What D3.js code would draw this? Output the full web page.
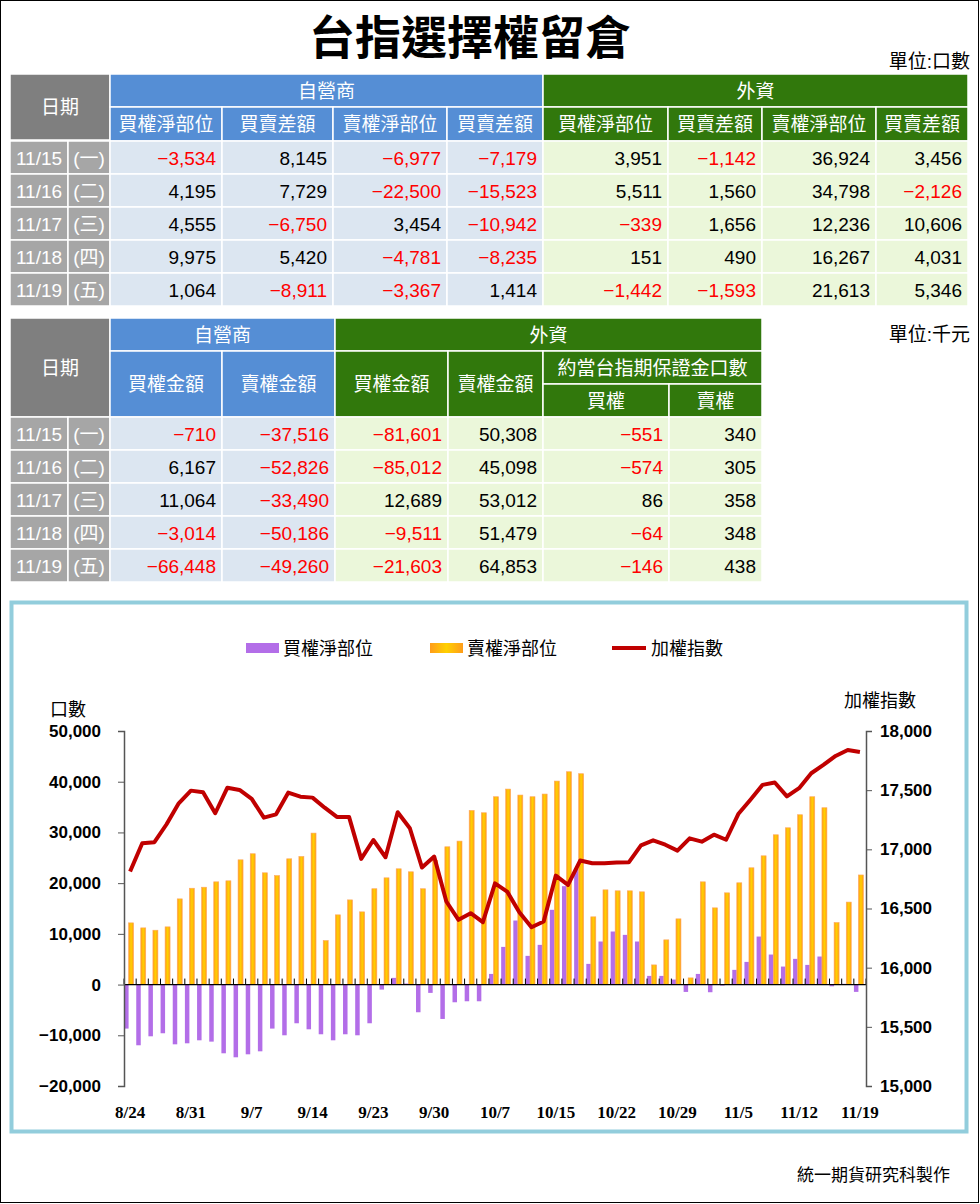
<!DOCTYPE html>
<html><head><meta charset="utf-8">
<script src="https://cdn.jsdelivr.net/npm/d3@7"></script>
<style>body{margin:0;background:#fff}svg{display:block}</style>
</head><body>
<script>
// ---- table data ----
const t1Dates = ["11/15","11/16","11/17","11/18","11/19"];
const t1Days = ["(一)","(二)","(三)","(四)","(五)"];
const dealerCallNet = [-3534,4195,4555,9975,1064];
const dealerCallDiff = [8145,7729,-6750,5420,-8911];
const dealerPutNet = [-6977,-22500,3454,-4781,-3367];
const dealerPutDiff = [-7179,-15523,-10942,-8235,1414];
const foreignCallNet = [3951,5511,-339,151,-1442];
const foreignCallDiff = [-1142,1560,1656,490,-1593];
const foreignPutNet = [36924,34798,12236,16267,21613];
const foreignPutDiff = [3456,-2126,10606,4031,5346];
const dealerCallAmt = [-710,6167,11064,-3014,-66448];
const dealerPutAmt = [-37516,-52826,-33490,-50186,-49260];
const foreignCallAmt = [-81601,-85012,12689,-9511,-21603];
const foreignPutAmt = [50308,45098,53012,51479,64853];
const marginCall = [-551,-574,86,-64,-146];
const marginPut = [340,305,358,348,438];

// ---- chart data ----
const chartDays = 61;
const tickLabels = ["8/24","8/31","9/7","9/14","9/23","9/30","10/7","10/15","10/22","10/29","11/5","11/12","11/19"];
const callNet = [-8680,-11970,-10200,-9600,-11780,-11580,-10990,-11250,-13550,-14340,-13750,-13160,-8680,-10000,-7630,-8820,-9800,-10990,-9800,-10000,
 -7630,-990,1320,200,-5460,-1640,-6780,-3490,-3290,-3290,2100,7430,12630,5660,7830,14740,19400,22890,4080,8490,
 10460,9800,8490,1710,1710,990,-1450,2100,-1510,-200,2900,4470,9470,5920,3550,5070,3880,5530,3951,5511,-339,151,-1442].slice(0,0);
const callNetV = [-8680,-11970,-10200,-9600,-11780,-11580,-10990,-11250,-13550,-14340,-13750,-13160,-8680,-10000,-7630,-8820,-9800,-10990,-9800,-10000,
 -7630,-990,1320,200,-5460,-1640,-6780,-3490,-3290,-3290,2100,7430,12630,5660,7830,14740,19400,22890,4080,8490,
 10460,9800,8490,1710,1710,990,-1450,2100,-1510,-200,2900,4470,9470,5920,3550,5070,3880,5530,-339,151,-1442];
const putNet = [12170,11180,10720,11380,16900,19000,19200,20260,20460,24600,25800,22040,21500,24800,25260,29870,8680,13750,16700,14340,
 18900,21050,22830,22240,18900,24500,27170,28290,34340,33880,37040,38550,37370,37040,37570,40130,41970,41580,13360,18680,
 18490,18490,18290,3880,8820,12960,1320,20260,15130,18090,20070,23030,25390,29540,30920,33490,37040,34870,12236,16267,21613];
const taiex = [16812,17051,17060,17212,17389,17496,17482,17305,17521,17502,17426,17268,17296,17479,17445,17437,17352,17274,17274,16919,
 17079,16933,17313,17178,16846,16939,16559,16404,16460,16384,16713,16643,16469,16342,16390,16778,16699,16905,16882,16882,
 16888,16890,17034,17076,17039,16989,17093,17065,17124,17081,17298,17419,17545,17565,17447,17517,17643,17713,17789,17840,17823];
const leftTicks = [-20000,-10000,0,10000,20000,30000,40000,50000];
const rightTicks = [15000,15500,16000,16500,17000,17500,18000];

const W=980,H=1204;
const svg=d3.select("body").append("svg").attr("width",W).attr("height",H);
const CJK='"Liberation Sans","Noto Sans CJK TC",sans-serif';
svg.append("rect").attr("x",0.5).attr("y",0.5).attr("width",W-2).attr("height",H-2).attr("fill","#fff").attr("stroke","#000");

svg.append("text").attr("x",470).attr("y",54).attr("text-anchor","middle").attr("font-family",'"Noto Sans CJK TC",sans-serif').attr("font-weight","bold").attr("font-size",46).text("台指選擇權留倉");
svg.append("text").attr("x",970).attr("y",68).attr("text-anchor","end").attr("font-family",CJK).attr("font-size",19).text("單位:口數");
svg.append("text").attr("x",970).attr("y",341).attr("text-anchor","end").attr("font-family",CJK).attr("font-size",19).text("單位:千元");

const GRAYH="#7f7f7f",GRAYD="#a6a6a6",BLUE="#558ed5",GREEN="#31780c",LB="#dce6f1",LG="#ebf7da";
const fmt=d3.format(",");
function cell(x,y,w,h,fill,txt,opt={}){
  svg.append("rect").attr("x",x).attr("y",y).attr("width",w).attr("height",h).attr("fill",fill).attr("stroke","#fff").attr("stroke-width",1.5);
  if(txt!==undefined){
    const anchor=opt.anchor||"middle";
    const tx=anchor==="end"?x+w-6:(anchor==="start"?x+5:x+w/2);
    svg.append("text").attr("x",tx).attr("y",y+h/2+7).attr("text-anchor",anchor).attr("font-family",CJK).attr("font-size",opt.size||19)
      .attr("fill",opt.color||"#000").text(txt);
  }
}
function numCell(x,y,w,h,fill,v){cell(x,y,w,h,fill,fmt(v),{anchor:"end",color:v<0?"#ff0000":"#000"});}

// table 1
{
  const y0=74,hh=33,rh=33;
  const cx=[110,222,333,447,543,668,762,876,968];
  cell(10,y0,100,hh*2,GRAYH,"日期",{color:"#fff"});
  cell(110,y0,433,hh,BLUE,"自營商",{color:"#fff"});
  cell(543,y0,425,hh,GREEN,"外資",{color:"#fff"});
  const heads=["買權淨部位","買賣差額","賣權淨部位","買賣差額","買權淨部位","買賣差額","賣權淨部位","買賣差額"];
  heads.forEach((t,i)=>cell(cx[i],y0+hh,cx[i+1]-cx[i],hh+1,i<4?BLUE:GREEN,t,{color:"#fff"}));
  const cols=[dealerCallNet,dealerCallDiff,dealerPutNet,dealerPutDiff,foreignCallNet,foreignCallDiff,foreignPutNet,foreignPutDiff];
  t1Dates.forEach((d,r)=>{
    const y=y0+hh*2+1+r*rh;
    cell(10,y,58,rh,GRAYD,d,{color:"#fff"});
    cell(68,y,42,rh,GRAYD,t1Days[r],{color:"#fff"});
    cols.forEach((c,i)=>numCell(cx[i],y,cx[i+1]-cx[i],rh,i<4?LB:LG,c[r]));
  });
}
// table 2
{
  const y0=318,hh=33,rh=33;
  const cx=[110,222,335,448,543,669,762];
  cell(10,y0,100,hh*3,GRAYH,"日期",{color:"#fff"});
  cell(110,y0,225,hh,BLUE,"自營商",{color:"#fff"});
  cell(335,y0,427,hh,GREEN,"外資",{color:"#fff"});
  ["買權金額","賣權金額","買權金額","賣權金額"].forEach((t,i)=>cell(cx[i],y0+hh,cx[i+1]-cx[i],hh*2,i<2?BLUE:GREEN,t,{color:"#fff"}));
  cell(543,y0+hh,219,hh,GREEN,"約當台指期保證金口數",{color:"#fff"});
  cell(543,y0+hh*2,126,hh,GREEN,"買權",{color:"#fff"});
  cell(669,y0+hh*2,93,hh,GREEN,"賣權",{color:"#fff"});
  const cols=[dealerCallAmt,dealerPutAmt,foreignCallAmt,foreignPutAmt,marginCall,marginPut];
  t1Dates.forEach((d,r)=>{
    const y=y0+hh*3+r*rh;
    cell(10,y,58,rh,GRAYD,d,{color:"#fff"});
    cell(68,y,42,rh,GRAYD,t1Days[r],{color:"#fff"});
    cols.forEach((c,i)=>numCell(cx[i],y,cx[i+1]-cx[i],rh,i<2?LB:LG,c[r]));
  });
}

// chart frame
svg.append("rect").attr("x",11.5).attr("y",602.5).attr("width",955).attr("height",529).attr("fill","#fff").attr("stroke","#92cddc").attr("stroke-width",4);

const defs=svg.append("defs");
const g=defs.append("linearGradient").attr("id","og").attr("x1","0").attr("x2","1").attr("y1","0").attr("y2","0");
g.append("stop").attr("offset","0").attr("stop-color","#ff9c1a");
g.append("stop").attr("offset","0.5").attr("stop-color","#ffd000");
g.append("stop").attr("offset","1").attr("stop-color","#ff9c1a");

const x=d3.scaleBand().domain(d3.range(chartDays)).range([124,866]);
const yL=d3.scaleLinear().domain([-20000,50000]).range([1086,731]);
const yR=d3.scaleLinear().domain([15000,18000]).range([1086,731]);
const cxp=i=>x(i)+x.bandwidth()/2;

const plot=svg.append("g");
plot.selectAll(".p").data(callNetV).join("rect")
  .attr("x",(d,i)=>cxp(i)-6).attr("width",4.5)
  .attr("y",d=>yL(Math.max(0,d))).attr("height",d=>Math.abs(yL(d)-yL(0)))
  .attr("fill","#b36ee8");
plot.selectAll(".o").data(putNet).join("rect")
  .attr("x",(d,i)=>cxp(i)-1.5).attr("width",5)
  .attr("y",d=>yL(Math.max(0,d))).attr("height",d=>Math.abs(yL(d)-yL(0)))
  .attr("fill","url(#og)").attr("stroke","#ffa860").attr("stroke-width",0.6);

// zero line + category ticks
plot.append("line").attr("x1",124).attr("x2",866).attr("y1",yL(0)).attr("y2",yL(0)).attr("stroke","#000").attr("stroke-width",1.3);
plot.selectAll(".ct").data(d3.range(chartDays+1)).join("line")
  .attr("x1",i=>124+i*x.step()).attr("x2",i=>124+i*x.step()).attr("y1",yL(0)-6).attr("y2",yL(0)).attr("stroke","#000");

// index line
plot.append("path").datum(taiex).attr("fill","none").attr("stroke","#c00000").attr("stroke-width",4).attr("stroke-linejoin","round")
  .attr("d",d3.line().x((d,i)=>cxp(i)).y(d=>yR(d)));

// axes
const axL=svg.append("g").attr("transform","translate(124,0)").call(d3.axisLeft(yL).tickValues(leftTicks).tickFormat(d3.format(",")).tickSize(6).tickPadding(17));
const axR=svg.append("g").attr("transform","translate(866,0)").call(d3.axisRight(yR).tickValues(rightTicks).tickFormat(d3.format(",")).tickSize(6).tickPadding(8));
[axL,axR].forEach(a=>{a.select(".domain").attr("stroke","#555").attr("stroke-width",1.5);a.selectAll("line").attr("stroke","#555");
  a.selectAll("text").attr("font-family",'"Liberation Sans",Arial,sans-serif').attr("font-weight","bold").attr("font-size",17).attr("fill","#000");});

svg.append("g").selectAll("text").data(tickLabels).join("text")
  .attr("x",(d,i)=>cxp(i*5)).attr("y",1118).attr("text-anchor","middle")
  .attr("font-family",'"Liberation Serif","Times New Roman",serif').attr("font-weight","bold").attr("font-size",17).text(d=>d);

svg.append("text").attr("x",68).attr("y",716).attr("text-anchor","middle").attr("font-family",CJK).attr("font-size",18).text("口數");
svg.append("text").attr("x",880).attr("y",707).attr("text-anchor","middle").attr("font-family",CJK).attr("font-size",18).text("加權指數");

// legend
const lg=svg.append("g").attr("font-family",CJK).attr("font-size",18);
lg.append("rect").attr("x",246).attr("y",643).attr("width",33).attr("height",10).attr("fill","#b36ee8");
lg.append("text").attr("x",283).attr("y",655).text("買權淨部位");
lg.append("rect").attr("x",430).attr("y",643).attr("width",33).attr("height",10).attr("fill","url(#og)");
lg.append("text").attr("x",467).attr("y",655).text("賣權淨部位");
lg.append("line").attr("x1",612).attr("x2",646).attr("y1",648).attr("y2",648).attr("stroke","#c00000").attr("stroke-width",4);
lg.append("text").attr("x",651).attr("y",655).text("加權指數");

svg.append("text").attr("x",950).attr("y",1181).attr("text-anchor","end").attr("font-family",CJK).attr("font-size",17).text("統一期貨研究科製作");
</script>
</body></html>
